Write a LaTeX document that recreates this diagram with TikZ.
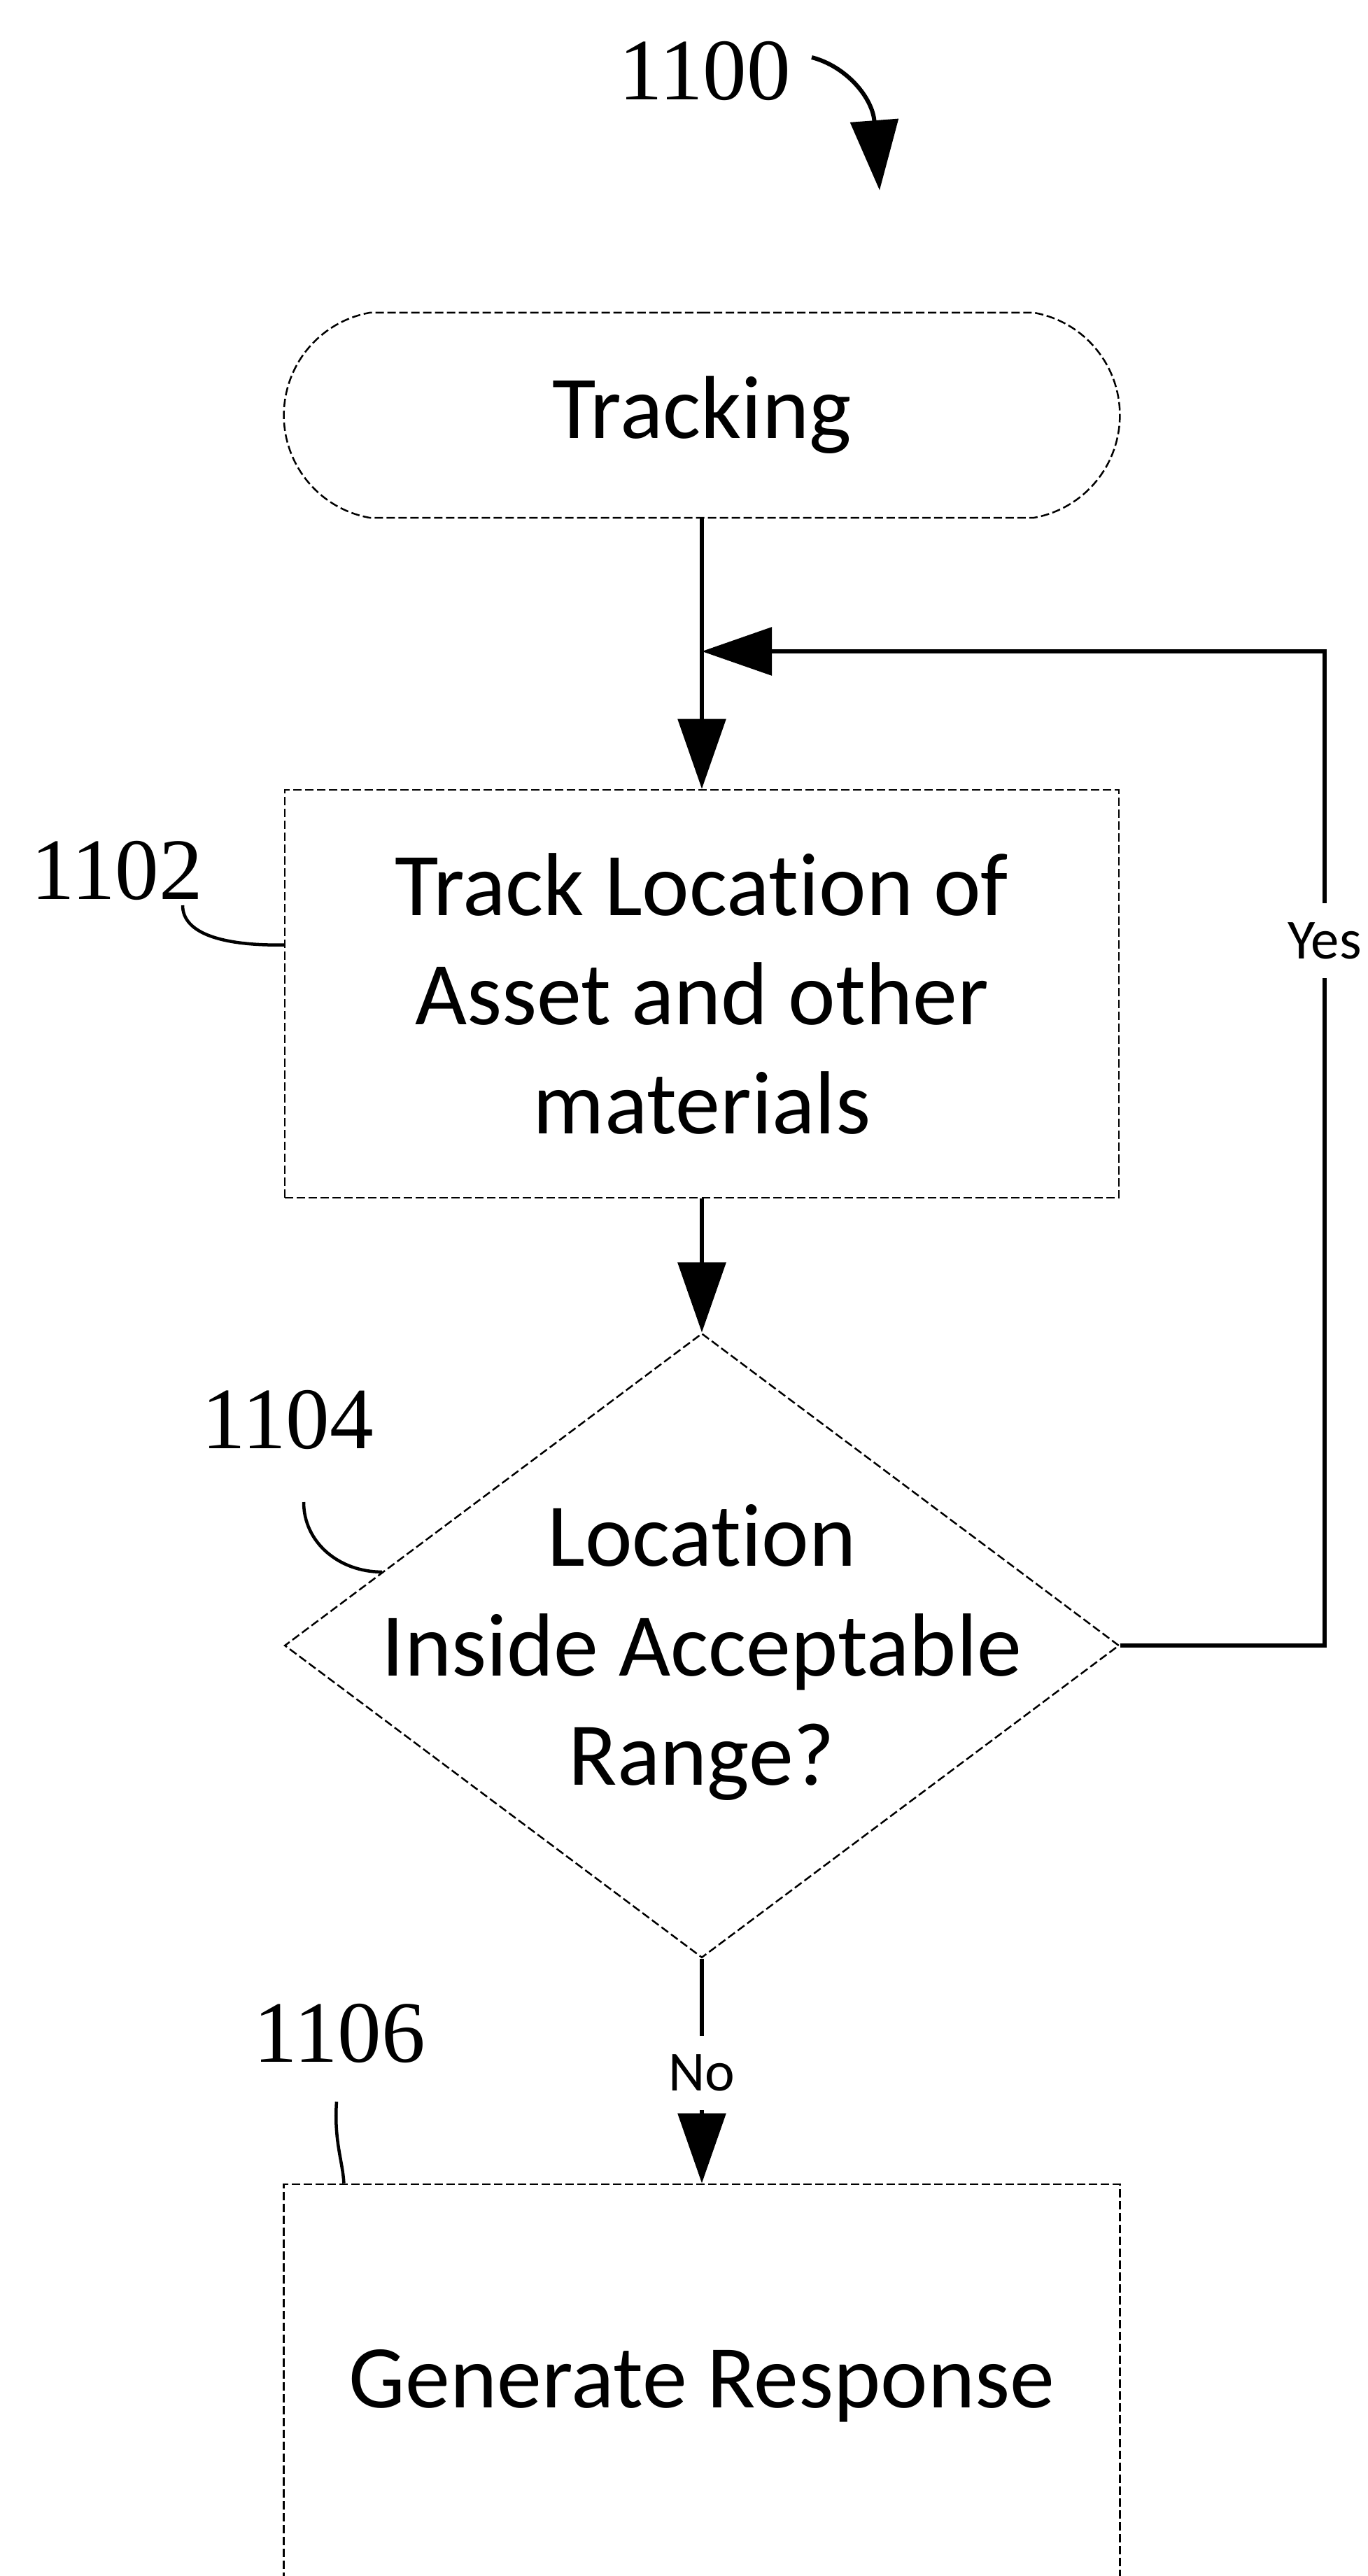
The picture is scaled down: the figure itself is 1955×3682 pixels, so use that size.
\documentclass[tikz,border=0pt]{standalone}
\usepackage{fontspec}
\setmainfont{Carlito}[Ligatures=NoCommon]
\newfontfamily\lblfont{Liberation Serif}
\usetikzlibrary{arrows.meta,shapes.geometric,shapes.misc,calc}

\begin{document}
\begin{tikzpicture}[x=0.01cm,y=-0.01cm,
  border/.style={draw=black, line width=0.025cm, dash pattern=on 0.12cm off 0.05cm},
  maintext/.style={font=\fontsize{36.4}{44.4}\selectfont, align=center, inner sep=0pt},
  smalltext/.style={font=\fontsize{23}{27}\selectfont, fill=white, inner sep=0pt, minimum height=1.06cm, minimum width=1.2cm},
  reftext/.style={font=\lblfont\fontsize{35.6}{40}\selectfont, inner sep=0pt, anchor=base},
  tipstyle/.style={-{Triangle[length=1cm,width=0.68cm]}},
  flow/.style={line width=0.06cm, tipstyle},
  leader/.style={line width=0.045cm},
]
\useasboundingbox (0,0) rectangle (1955,3682);
\clip (0,0) rectangle (1955,3682);
\fill[white] (0,0) rectangle (1955,3682);

% shapes
\node[border, rounded rectangle, rounded rectangle arc length=160,
      minimum width=11.94cm, minimum height=2.93cm, maintext] (start) at (1003,593.5) {Tracking};
\node[border, rectangle, minimum width=11.91cm, minimum height=5.83cm, maintext] (track) at (1003,1420.5)
      {Track Location of\\Asset and other\\materials};
\node[border, diamond, minimum width=11.92cm, minimum height=8.92cm, inner sep=0pt] (check) at (1003,2352) {};
\node[maintext] (checktxt) at ([yshift=-0.1cm]check.center) {Location\\Inside Acceptable\\Range?};
\node[border, rectangle, minimum width=11.94cm, minimum height=5.76cm, maintext] (resp) at (1003,3410)
      {Generate Response};

% connectors
\coordinate (join) at (1003,931);
\coordinate (loopR) at (1893,2352);
\coordinate (loopT) at (1893,931);

\draw[flow] (start.south) -- (track.north);
\draw[flow] (track.south) -- (check.north);
\draw[flow] (check.east) -- (loopR) -- node[pos=0.709, smalltext] (yes) {Yes} (loopT) -- (join);
\draw[flow] (check.south) -- node[pos=0.508, smalltext] (no) {No} (resp.north);

% reference numerals
\node[reftext] (l1100) at (1007,143) {1100};
\coordinate (a1100s) at (1160,82);
\coordinate (a1100e) at (1257,272);
\draw[line width=0.06cm, tipstyle] (a1100s) .. controls (1210,95) and (1247,140) .. (a1100e);

\node[reftext] (l1102) at (167,1285) {1102};
\coordinate (s1102) at (261,1294);
\draw[leader] (s1102) .. controls (261,1335) and (320,1352) .. ($(track.north west)+(0,223)$);

\node[reftext] (l1104) at (411,2070) {1104};
\coordinate (s1104) at (434,2147);
\draw[leader] (s1104) .. controls (434,2205) and (485,2247) .. ($(check.west)!0.235!(check.north)$);

\node[reftext] (l1106) at (485,2947) {1106};
\coordinate (s1106) at (481,3004);
\draw[leader] (s1106) .. controls (477,3060) and (490,3090) .. ($(resp.north west)+(87,0)$);
\end{tikzpicture}
\end{document}
